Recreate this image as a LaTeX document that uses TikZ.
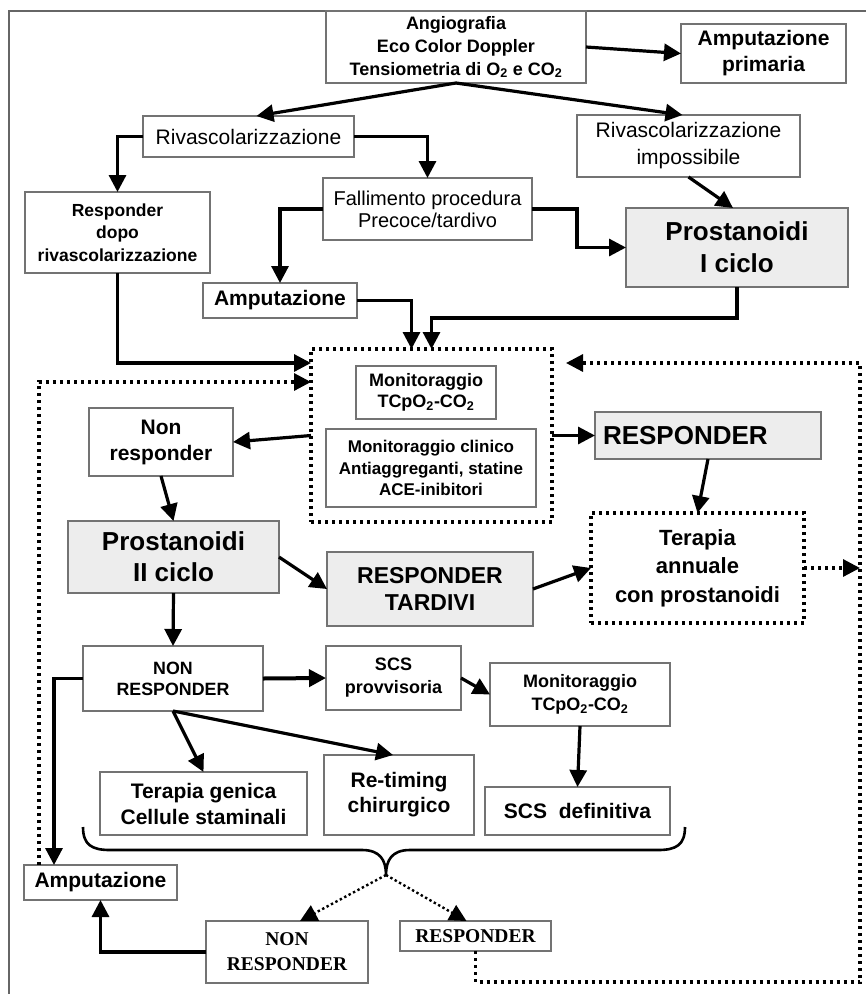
\documentclass[tikz,border=0pt]{standalone}
\usepackage{fontspec}
\setmainfont{Liberation Sans}
\newfontfamily\timesfont{Liberation Serif}
\usepackage{tikz}
\usetikzlibrary{arrows.meta}
\newcommand{\fsz}[2]{\fontsize{#1pt}{#2pt}\selectfont}
\tikzset{
	plainbox/.style={rectangle, draw=black!55, line width=1.4pt, align=center, inner sep=2pt, outer sep=0pt},
	greybox/.style={plainbox, fill=black!7},
	dotbox/.style={rectangle, draw=black, line width=3.2pt, dash pattern=on 3pt off 4pt, align=center, outer sep=0pt},
	flow/.style={->, line width=3.2pt},
	dotflow/.style={->, line width=3.2pt, dash pattern=on 3pt off 4pt},
	fineflow/.style={->, line width=2.4pt, dash pattern=on 2.4pt off 2.6pt},
	>={Triangle[length=17pt,width=17pt]}
}

\begin{document}
\begin{tikzpicture}[x=1pt, y=-1pt]
		\useasboundingbox (0,0) rectangle (866,994);
		\draw[black!60, line width=1.2pt] (9,994) -- (9,11) -- (866,11);
		
		\node[plainbox, minimum width=260pt, minimum height=72pt, font=\fsz{18}{23}\bfseries] at (456,47) (angio) {Angiografia\\Eco Color Doppler\\Tensiometria di O\textsubscript{2} e CO\textsubscript{2}};
		\node[plainbox, minimum width=165pt, minimum height=59pt, font=\fsz{21}{26}\bfseries] at (763.5,53.5) (ampprim) {Amputazione\\primaria};
		\node[plainbox, minimum width=211pt, minimum height=41pt, font=\fsz{21}{26}] at (248.5,136.5) (riv) {Rivascolarizzazione};
		\node[plainbox, minimum width=223pt, minimum height=62pt, font=\fsz{21}{27}] at (688.5,146) (rivimp) {Rivascolarizzazione\\impossibile};
		\node[plainbox, minimum width=209pt, minimum height=62pt, font=\fsz{20}{22}] at (427.5,209) (fall) {Fallimento procedura\\Precoce/tardivo};
		\node[plainbox, minimum width=185pt, minimum height=81pt, font=\fsz{17.5}{22.5}\bfseries] at (117.5,232.5) (respdopo) {Responder\\dopo\\rivascolarizzazione};
		\node[greybox, minimum width=222pt, minimum height=79pt, font=\fsz{26}{32}\bfseries] at (737,247.5) (prosti) {Prostanoidi\\I ciclo};
		\node[plainbox, minimum width=154pt, minimum height=35pt, font=\fsz{21}{26}\bfseries] at (280,300.5) (ampi) {Amputazione};
		
		\node[dotbox, minimum width=241pt, minimum height=173pt] at (431.5,435.5) (monit) {};
		\node[plainbox, minimum width=140pt, minimum height=53pt, font=\fsz{18}{21}\bfseries] at (426,392.5) (tcpo) {Monitoraggio\\TCpO\textsubscript{2}-CO\textsubscript{2}};
		\node[plainbox, minimum width=210pt, minimum height=78pt, font=\fsz{17}{21.5}\bfseries] at (431,468) (clin) {Monitoraggio clinico\\Antiaggreganti, statine\\ACE-inibitori};
		\node[plainbox, minimum width=144pt, minimum height=68pt, font=\fsz{21}{26}\bfseries] at (161,442) (nonresp) {Non\\responder};
		\node[greybox, minimum width=226pt, minimum height=47pt, font=\fsz{26}{30}\bfseries, align=left, text width=210pt] at (708,435.5) (resp) {RESPONDER};
		\node[greybox, minimum width=211pt, minimum height=72pt, font=\fsz{26}{31}\bfseries] at (173.5,557) (prostii) {Prostanoidi\\II ciclo};
		\node[greybox, minimum width=206pt, minimum height=74pt, font=\fsz{23}{27}\bfseries] at (430,589) (resptard) {RESPONDER\\TARDIVI};
		\node[dotbox, minimum width=213pt, minimum height=110pt, font=\fsz{22}{28.5}\bfseries] at (697.5,568) (terapia) {Terapia\\annuale\\con prostanoidi};
		
		\node[plainbox, minimum width=180pt, minimum height=65pt, font=\fsz{17.8}{21}\bfseries] at (173,678.5) (nonrespii) {NON\\RESPONDER};
		\node[plainbox, minimum width=135pt, minimum height=64pt, font=\fsz{18}{23}\bfseries] at (393.5,678) (scsprov) {SCS\\provvisoria};
		\node[plainbox, minimum width=180pt, minimum height=63pt, font=\fsz{18}{23}\bfseries] at (580,694.5) (monitii) {Monitoraggio\\TCpO\textsubscript{2}-CO\textsubscript{2}};
		\node[plainbox, minimum width=185pt, minimum height=48pt, font=\fsz{21}{26}\bfseries] at (577.5,811) (scsdef) {SCS~~definitiva};
		\node[plainbox, minimum width=207pt, minimum height=63pt, font=\fsz{21}{26}\bfseries] at (203.5,803.5) (genica) {Terapia genica\\Cellule staminali};
		\node[plainbox, minimum width=150pt, minimum height=80pt, font=\fsz{21}{25}\bfseries] at (399,795) (retiming) {Re-timing\\chirurgico};
		\node[plainbox, minimum width=153pt, minimum height=35pt, font=\fsz{21}{26}\bfseries] at (100.5,882.5) (ampii) {Amputazione};
		\node[plainbox, minimum width=162pt, minimum height=62pt, font=\timesfont\fsz{19.5}{25}\bfseries] at (287,952) (nonrespiii) {NON\\RESPONDER};
		\node[plainbox, minimum width=151pt, minimum height=30pt, font=\timesfont\fsz{19.5}{24}\bfseries] at (475.5,936) (respii) {RESPONDER};
		
		\coordinate (rtop) at (860,363);
		\coordinate (rbot) at (860,982);
		\coordinate (rtip) at (566,363);
		\coordinate (btip) at (386,875);
		
		\draw[flow] (angio.east) -- (ampprim.west);
		\draw[flow] (angio.south) -- ([xshift=8pt]riv.north);
		\draw[flow] (angio.south) -- ([xshift=-6pt]rivimp.north);
		\draw[flow] (riv.east) -| (fall.north);
		\draw[flow] (riv.west) -| (respdopo.north);
		\draw[flow] (rivimp.south) -- ([xshift=-4pt]prosti.north);
		\draw[flow] (fall.east) -- ++(45,0) |- (prosti.west);
		\draw[flow] (fall.west) -| (ampi.north);
		\draw[flow] (ampi.east) -| ([xshift=-20pt]monit.north);
		\draw[flow] (prosti.south) -- ++(0,31) -| (monit.north);
		\draw[flow] (respdopo.south) |- ([yshift=-14pt]monit.north west);
		\draw[dotflow] ([xshift=15pt]ampii.north west) |- ([yshift=-33pt]monit.north west);
		\draw[flow] (monit.west) -- (nonresp.east);
		\draw[flow] (monit.east) -- (resp.west);
		\draw[flow] (resp.south) -- (terapia.north);
		\draw[flow] (nonresp.south) -- (prostii.north);
		\draw[flow] (prostii.south) -- (nonrespii.north);
		\draw[flow] (prostii.east) -- (resptard.west);
		\draw[flow] (resptard.east) -- (terapia.west);
		\draw[dotflow] (terapia.east) -- (terapia.east -| rtop);
		\draw[dotflow] (respii.south) |- (rbot) -- (rtop) -- (rtip);
		
		\draw[flow, line width=4pt] (nonrespii.east) -- (scsprov.west);
		\draw[flow] (scsprov.east) -- (monitii.west);
		\draw[flow] (monitii.south) -- (scsdef.north);
		\draw[flow] (nonrespii.west) -| ([xshift=30pt]ampii.north west);
		\draw[flow] (nonrespii.south) -- (genica.north);
		\draw[flow] (nonrespii.south) -- ([xshift=-6pt]retiming.north);
		
		\draw[line width=2.6pt] (83,827) .. controls (83,845) and (92,850) .. (110,850) -- (362,850) .. controls (380,850) and (386,860) .. (btip) .. controls (386,860) and (392,850) .. (410,850) -- (658,850) .. controls (676,850) and (685,845) .. (685,827);
		\draw[fineflow] (btip) -- ([xshift=13pt]nonrespiii.north);
		\draw[fineflow] (btip) -- ([xshift=-9pt]respii.north);
		\draw[flow] (nonrespiii.west) -| (ampii.south);
	\end{tikzpicture}
\end{document}
